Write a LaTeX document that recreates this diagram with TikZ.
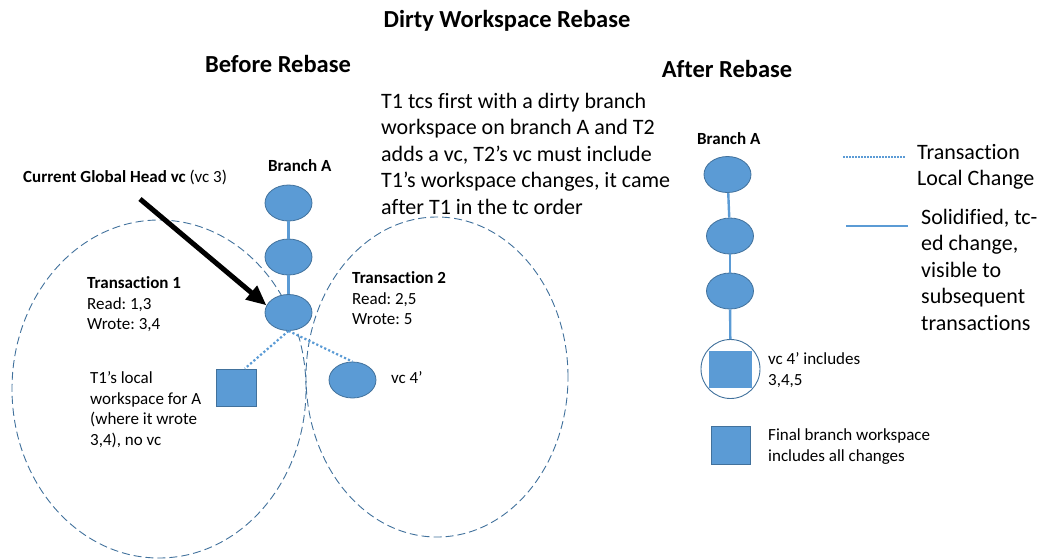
\documentclass[tikz,border=0pt]{standalone}
\usepackage{fontspec}
\setmainfont{Carlito}[Ligatures={NoCommon}]
\usetikzlibrary{shapes.geometric,arrows.meta}
\definecolor{nodefill}{RGB}{91,155,213}
\definecolor{nodeedge}{RGB}{65,113,156}
\frenchspacing
% left-aligned block of lines whose reference point is the first baseline
\newcommand{\linesblock}[1]{\begin{tabular}[t]{@{}l@{}}#1\end{tabular}}
\begin{document}
\begin{tikzpicture}[x=1pt,y=-1pt,
  headline/.style={font=\fontsize{24.5}{29}\selectfont\bfseries, inner sep=0pt, anchor=base},
  bodytext/.style={font=\fontsize{22}{26.6}\selectfont, inner sep=0pt, anchor=base west},
  smalltext/.style={font=\fontsize{17}{20.6}\selectfont, inner sep=0pt, anchor=base west},
  vcnode/.style={ellipse, fill=nodefill, draw=nodeedge, line width=0.8pt,
                 minimum width=47pt, minimum height=36pt, inner sep=0pt},
  wsnode/.style={rectangle, fill=nodefill, draw=nodeedge, line width=0.8pt,
                 minimum width=40pt, minimum height=37pt, inner sep=0pt},
  txn/.style={ellipse, draw=nodeedge, line width=0.9pt, dash pattern=on 8pt off 4pt, inner sep=0pt},
  solid link/.style={draw=nodefill, line width=2.4pt},
  local link/.style={draw=nodefill, line width=2.2pt, dash pattern=on 2.2pt off 2.2pt},
  bigarrow/.style={line width=5pt, -{Triangle[length=20pt,width=17pt]}}
]
\useasboundingbox (0,0) rectangle (1042,558);

% headings
\node[headline] (title) at (507,27) {Dirty Workspace Rebase};
\node[headline] (before) at (278,72) {Before Rebase};
\node[headline] (after) at (727,77) {After Rebase};

% explanation
\node[bodytext] (explain) at (381,108) {\linesblock{T1 tcs first with a dirty branch\\
workspace on branch A and T2\\
adds a vc, T2’s vc must include\\
T1’s workspace changes, it came\\
after T1 in the tc order}};

% ---------- before the rebase ----------
\node[txn, minimum width=294pt, minimum height=338pt] (t1) at (159,389) {};
\node[txn, minimum width=262pt, minimum height=320pt] (t2) at (437,377) {};

\node[smalltext, font=\fontsize{17}{20.6}\selectfont\bfseries] (blabel) at (268,171.5) {Branch A};
\node[vcnode] (b1) at (288.5,203) {};
\node[vcnode] (b2) at (288.5,257) {};
\node[vcnode] (b3) at (288.5,312.5) {};
\draw[solid link] (b1) -- (b2);
\draw[solid link] (b2) -- (b3);

\node[smalltext] (head) at (23,182.5) {\textbf{Current Global Head vc} (vc 3)};
\coordinate (headtail) at (140,199);
\draw[bigarrow] (headtail) -- (b3.162);

\node[smalltext] (t1text) at (87,288.5) {\linesblock{\textbf{Transaction 1}\\Read: 1,3\\Wrote: 3,4}};
\node[smalltext] (t2text) at (352,283.5) {\linesblock{\textbf{Transaction 2}\\Read: 2,5\\Wrote: 5}};

\node[wsnode] (ws) at (236,387.5) {};
\node[vcnode] (vc) at (352.5,380) {};
\draw[local link] (b3.south) -- (ws.65);
\draw[local link] (b3.south) -- (vc.north);

\node[smalltext] (wstext) at (90,383.5) {\linesblock{T1’s local\\workspace for A\\(where it wrote\\3,4), no vc}};
\node[smalltext] (vctext) at (391,383.5) {vc 4’};

% ---------- after the rebase ----------
\node[smalltext, font=\fontsize{17}{20.6}\selectfont\bfseries] (alabel) at (697,144.5) {Branch A};
\node[vcnode] (a1) at (727.5,174.5) {};
\node[vcnode] (a2) at (730,236) {};
\node[vcnode] (a3) at (730,291) {};
\node[circle, draw=nodeedge, line width=0.9pt, minimum size=59pt, inner sep=0pt] (a4) at (730.5,369) {};
\node[rectangle, fill=nodefill, minimum width=43pt, minimum height=37pt, inner sep=0pt] (a4ws) at (730.5,369.5) {};
\draw[solid link] (a1) -- (a2);
\draw[solid link] (a2) -- (a3);
\draw[solid link] (a3) -- (a4);
\node[smalltext] (a4text) at (768,364.5) {\linesblock{vc 4’ includes\\3,4,5}};

\node[wsnode, minimum width=39pt, minimum height=38pt] (fws) at (730.5,445) {};
\node[smalltext] (fwstext) at (768,440.5) {\linesblock{Final branch workspace\\includes all changes}};

% ---------- legend ----------
\coordinate (ldot1) at (843,157);
\coordinate (ldot2) at (905,157);
\draw[draw=nodefill, line width=1.5pt, dash pattern=on 1.5pt off 1.5pt] (ldot1) -- (ldot2);
\node[bodytext] (ldottext) at (917,159) {\linesblock{Transaction\\Local Change}};
\coordinate (lsol1) at (846,226);
\coordinate (lsol2) at (908,226);
\draw[solid link, line width=2pt] (lsol1) -- (lsol2);
\node[bodytext] (lsoltext) at (921,224) {\linesblock{Solidified, tc-\\ed change,\\visible to\\subsequent\\transactions}};
\end{tikzpicture}
\end{document}
